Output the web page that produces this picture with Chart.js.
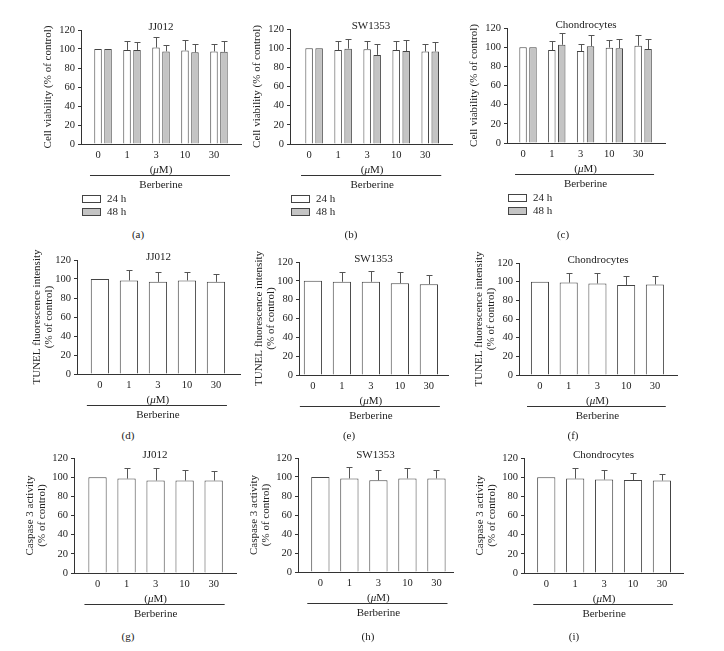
<!DOCTYPE html>
<html>
<head>
<meta charset="utf-8">
<script src="https://cdn.jsdelivr.net/npm/chart.js@4.4.0/dist/chart.umd.min.js"></script>
<style>
  body { margin: 0; background: #fff; }
  #fig { position: relative; width: 724px; height: 651px; }
  #fig canvas { position: absolute; }
  .lab { position: absolute; font: 11px 'Liberation Serif', serif; color: #222; transform: translate(-50%, -50%); }
</style>
</head>
<body>
<div id="fig"></div>
<script>
const doses = ['0', '1', '3', '10', '30'];
const yTicks = [0, 20, 40, 60, 80, 100, 120];

// (a)-(c) cell viability, 24 h and 48 h
const viabJJ012_24 = [100, 99, 101.5, 98.5, 97.5];
const viabJJ012_24Err = [0, 9.5, 11, 11, 7.5];
const viabJJ012_48 = [100, 99, 97.5, 96.5, 97];
const viabJJ012_48Err = [0, 8.5, 7, 8.5, 11];
const viabSW1353_24 = [100, 98, 99, 98, 96.5];
const viabSW1353_24Err = [0, 9, 8, 9, 7.5];
const viabSW1353_48 = [100, 99.5, 93, 97, 96.5];
const viabSW1353_48Err = [0, 10.5, 11, 12, 9.5];
const viabChon_24 = [100, 97, 96, 99.5, 101.5];
const viabChon_24Err = [0, 9.5, 7.5, 7.5, 11];
const viabChon_48 = [100, 102.5, 101, 99, 98];
const viabChon_48Err = [0, 12, 11.5, 10, 10.5];

// (d)-(f) TUNEL
const tunelJJ012 = [100, 98.5, 97, 98.5, 97];
const tunelJJ012Err = [0, 11.5, 10, 8.5, 8.5];
const tunelSW1353 = [100, 99, 99, 97.5, 96.5];
const tunelSW1353Err = [0, 10.5, 11.5, 12, 10];
const tunelChon = [100, 99, 98, 96.5, 97];
const tunelChonErr = [0, 10.5, 11.5, 10, 9];

// (g)-(i) caspase 3
const caspJJ012 = [100, 98.5, 96.5, 96.5, 96.5];
const caspJJ012Err = [0, 11.5, 13, 10.5, 9.5];
const caspSW1353 = [100, 98.5, 96.5, 98.5, 98.5];
const caspSW1353Err = [0, 12, 11, 10.5, 9];
const caspChon = [100, 98.5, 97.5, 97, 96.5];
const caspChonErr = [0, 11, 9.5, 7, 7];

const FONT = "'Liberation Serif', 'Times New Roman', serif";
const INK = '#222';
Chart.defaults.font.family = FONT;
Chart.defaults.color = INK;

const pts = arr => arr.map((v, i) => ({ x: i, y: v }));

// error bars, cell name, dose caption and legend
const extras = {
  id: 'extras',
  afterDatasetsDraw(chart) {
    const ctx = chart.ctx, ys = chart.scales.y;
    ctx.save();
    ctx.strokeStyle = '#555';
    ctx.lineWidth = 1;
    chart.data.datasets.forEach((ds, di) => {
      chart.getDatasetMeta(di).data.forEach((bar, i) => {
        const e = ds.errors[i];
        if (!e) return;
        const x = Math.round(bar.x) + 0.5;
        const top = Math.round(ys.getPixelForValue(ds.data[i].y + e)) + 0.5;
        ctx.beginPath();
        ctx.moveTo(x, bar.y);
        ctx.lineTo(x, top);
        ctx.moveTo(x - 3, top);
        ctx.lineTo(x + 3, top);
        ctx.stroke();
      });
    });
    ctx.restore();
  },
  afterDraw(chart, args, opts) {
    const ctx = chart.ctx, xs = chart.scales.x, a = chart.chartArea;
    const bottom = a.bottom;
    ctx.save();
    ctx.fillStyle = INK;
    ctx.textBaseline = 'middle';
    ctx.textAlign = 'center';
    ctx.font = '11px ' + FONT;
    ctx.fillText(opts.name, (a.left + a.right) / 2, a.top - 3);

    // (μM) with italic mu
    const cx = xs.getPixelForValue(2);
    const up = '11px ' + FONT, it = 'italic 11px ' + FONT;
    ctx.font = up; const w1 = ctx.measureText('(').width, w3 = ctx.measureText('M)').width;
    ctx.font = it; const w2 = ctx.measureText('\u03bc').width;
    let x0 = cx - (w1 + w2 + w3) / 2;
    ctx.textAlign = 'left';
    const yMu = bottom + 26;
    ctx.font = up; ctx.fillText('(', x0, yMu);
    ctx.font = it; ctx.fillText('\u03bc', x0 + w1, yMu);
    ctx.font = up; ctx.fillText('M)', x0 + w1 + w2, yMu);

    ctx.strokeStyle = '#333';
    ctx.lineWidth = 1;
    const yl = Math.round(bottom + 31) + 0.5;
    ctx.beginPath();
    ctx.moveTo(xs.getPixelForValue(-0.45), yl);
    ctx.lineTo(xs.getPixelForValue(4.38), yl);
    ctx.stroke();

    ctx.textAlign = 'center';
    ctx.fillText('Berberine', cx, bottom + 41);

    if (opts.legend) {
      chart.data.datasets.forEach((ds, i) => {
        const yy = Math.round(bottom + 55 + i * 13);
        ctx.fillStyle = ds.backgroundColor;
        ctx.fillRect(a.left + 1.5, yy - 3.5, 18, 7);
        ctx.strokeStyle = ds.borderColor;
        ctx.strokeRect(a.left + 1.5, yy - 3.5, 18, 7);
        ctx.fillStyle = INK;
        ctx.textAlign = 'left';
        ctx.fillText(ds.label, a.left + 26, yy);
      });
    }
    ctx.restore();
  }
};

function makeSet(label, vals, errs, fill) {
  return {
    label: label,
    data: pts(vals),
    errors: errs,
    backgroundColor: fill,
    borderColor: '#444',
    borderWidth: 1,
  };
}

const panels = [
  { tag: '(a)', lx: 138, ly: 234, name: 'JJ012', ax: 81, top: 30, bot: 144, right: 241, min: -0.76, max: 4.76, row: 0,
    sets: [makeSet('24 h', viabJJ012_24, viabJJ012_24Err, '#fff'), makeSet('48 h', viabJJ012_48, viabJJ012_48Err, '#c4c4c4')] },
  { tag: '(b)', lx: 351, ly: 234, name: 'SW1353', ax: 290, top: 29, bot: 144, right: 452, min: -0.83, max: 4.75, row: 0,
    sets: [makeSet('24 h', viabSW1353_24, viabSW1353_24Err, '#fff'), makeSet('48 h', viabSW1353_48, viabSW1353_48Err, '#c4c4c4')] },
  { tag: '(c)', lx: 563, ly: 234, name: 'Chondrocytes', ax: 507, top: 28, bot: 143, right: 665, min: -0.73, max: 4.76, row: 0,
    sets: [makeSet('24 h', viabChon_24, viabChon_24Err, '#fff'), makeSet('48 h', viabChon_48, viabChon_48Err, '#c4c4c4')] },
  { tag: '(d)', lx: 128, ly: 435, name: 'JJ012', ax: 77, top: 260, bot: 374, right: 240, min: -0.79, max: 4.83, row: 1,
    sets: [makeSet('TUNEL', tunelJJ012, tunelJJ012Err, '#fff')] },
  { tag: '(e)', lx: 349, ly: 435, name: 'SW1353', ax: 299, top: 262, bot: 375, right: 448, min: -0.48, max: 4.66, row: 1,
    sets: [makeSet('TUNEL', tunelSW1353, tunelSW1353Err, '#fff')] },
  { tag: '(f)', lx: 573, ly: 435, name: 'Chondrocytes', ax: 519, top: 263, bot: 375, right: 677, min: -0.73, max: 4.77, row: 1,
    sets: [makeSet('TUNEL', tunelChon, tunelChonErr, '#fff')] },
  { tag: '(g)', lx: 128, ly: 636, name: 'JJ012', ax: 74, top: 458, bot: 573, right: 236, min: -0.81, max: 4.77, row: 2,
    sets: [makeSet('Caspase 3', caspJJ012, caspJJ012Err, '#fff')] },
  { tag: '(h)', lx: 368, ly: 636, name: 'SW1353', ax: 298, top: 458, bot: 572, right: 453, min: -0.77, max: 4.57, row: 2,
    sets: [makeSet('Caspase 3', caspSW1353, caspSW1353Err, '#fff')] },
  { tag: '(i)', lx: 574, ly: 636, name: 'Chondrocytes', ax: 524, top: 458, bot: 573, right: 683, min: -0.77, max: 4.73, row: 2,
    sets: [makeSet('Caspase 3', caspChon, caspChonErr, '#fff')] },
];

const yTitles = [
  { text: 'Cell viability (% of control)', pad: 41 },
  { text: ['TUNEL fluorescence intensity', '(% of control)'], pad: 34 },
  { text: ['Caspase 3 activity', '(% of control)'], pad: 30 },
];

const fig = document.getElementById('fig');
const Y_W = 80, PAD_T = 12;

panels.forEach(p => {
  const xH = p.row === 0 ? 80 : 50;
  const left = p.ax - Y_W, top = p.top - PAD_T;
  const w = p.right - left + 4, h = p.bot - top + xH;
  const cv = document.createElement('canvas');
  cv.width = w; cv.height = h;
  cv.style.left = left + 'px'; cv.style.top = top + 'px';
  cv.style.width = w + 'px'; cv.style.height = h + 'px';
  fig.appendChild(cv);

  const lab = document.createElement('div');
  lab.className = 'lab';
  lab.textContent = p.tag;
  lab.style.left = p.lx + 'px'; lab.style.top = p.ly + 'px';
  fig.appendChild(lab);

  const grouped = p.sets.length > 1;
  new Chart(cv, {
    type: 'bar',
    data: { datasets: p.sets },
    plugins: [extras],
    options: {
      responsive: false,
      animation: false,
      layout: { padding: { left: 0, top: PAD_T, right: 4, bottom: 0 } },
      categoryPercentage: grouped ? 0.69 : 0.63,
      barPercentage: grouped ? 0.75 : 1.0,
      plugins: {
        legend: { display: false },
        tooltip: { enabled: false },
        extras: { name: p.name, legend: grouped },
      },
      scales: {
        x: {
          type: 'linear',
          min: p.min,
          max: p.max,
          offset: false,
          afterBuildTicks: s => { s.ticks = doses.map((d, i) => ({ value: i })); },
          afterFit: s => { s.height = xH; },
          grid: { display: true, drawOnChartArea: false, drawTicks: false, offset: false },
          border: { display: true, color: '#333', width: 1 },
          ticks: {
            callback: v => doses[v],
            padding: 5,
            labelOffset: grouped ? -5 : 0,
            maxRotation: 0,
            autoSkip: false,
            font: { size: 10.5 },
            color: INK,
          },
        },
        y: {
          min: 0,
          max: 120,
          afterBuildTicks: s => { s.ticks = yTicks.map(v => ({ value: v })); },
          afterFit: s => { s.width = Y_W; },
          grid: { display: true, drawOnChartArea: false, drawTicks: true, tickLength: 3, color: '#333' },
          border: { display: true, color: '#333', width: 1 },
          ticks: { padding: 3, font: { size: 10.5 }, color: INK },
          title: {
            display: true,
            text: yTitles[p.row].text,
            font: { size: 11, lineHeight: 1.1 },
            color: INK,
            padding: { top: yTitles[p.row].pad, bottom: 0 },
          },
        },
      },
    },
  });
});
</script>
</body>
</html>
